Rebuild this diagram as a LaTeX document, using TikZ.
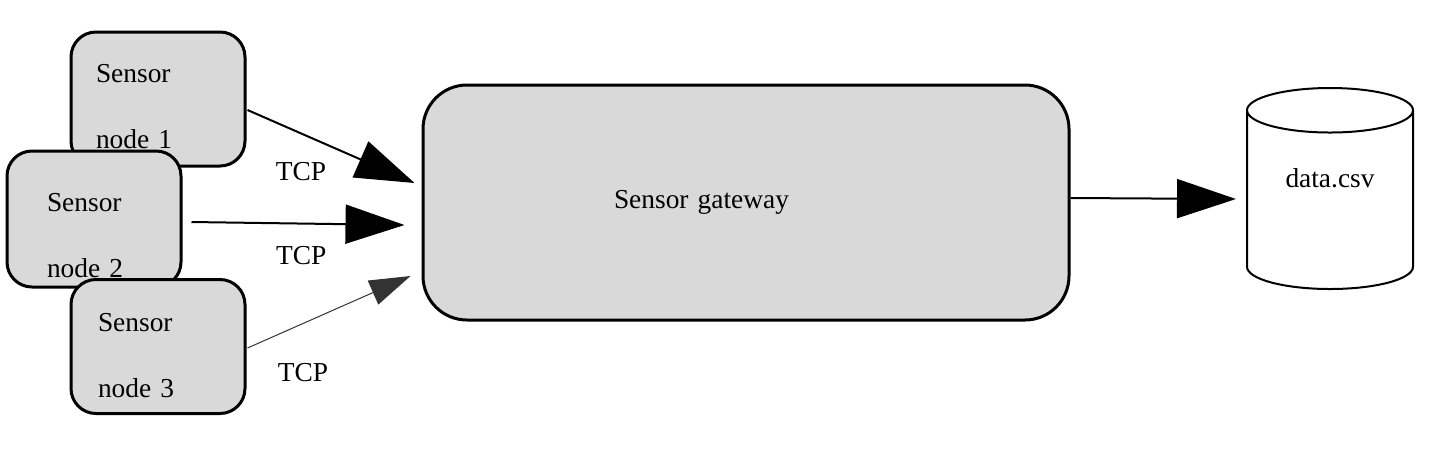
\documentclass[tikz,border=0pt]{standalone}
\usepackage{fontspec}
\setmainfont{Liberation Serif}
\usepackage{xcolor}
\usepackage{tikz}
\usetikzlibrary{arrows.meta, positioning, shapes.geometric, calc}
\definecolor{boxgray}{RGB}{217, 217, 217}
\definecolor{tipgray}{RGB}{51, 51, 51}
\newcommand{\topgap}[1]{\rule{0pt}{#1}}

\begin{document}
\begin{tikzpicture}[
  x=0.5pt, y=-0.5pt,
  every node/.style={font=\fontsize{13.7pt}{16pt}\selectfont},
  sensor/.style={
    draw=black, fill=boxgray, line width=1.5pt, rounded corners=12.5pt,
    minimum width=87pt, minimum height=67pt,
    text width=62pt, align=left, inner sep=0pt
  },
  gateway/.style={
    draw=black, fill=boxgray, line width=1.5pt, rounded corners=22pt,
    minimum width=323pt, minimum height=117.5pt,
    text width=132pt, align=left, inner sep=0pt
  },
  store/.style={
    cylinder, shape border rotate=90, draw=black, fill=white,
    line width=1pt, aspect=0.5, minimum width=83pt, minimum height=100.5pt,
    inner sep=0pt, text depth=22pt
  },
  arrow/.style={-{Triangle[length=29.5pt, width=19.5pt]}, line width=1pt},
  thinarrow/.style={-{Triangle[length=20.5pt, width=13pt]}, line width=0.5pt, color=tipgray},
  tcp/.style={inner sep=0pt}
]
  \useasboundingbox (0,0) rectangle (1450,473);

  % Sensoren (links, ueberlappend)
  \node[sensor] (s1) at (158,99) {\topgap{16.3pt}Sensor\\[17pt]node 1};
  \node[sensor, minimum height=68pt, text width=47pt] (s2) at (94,219) {\topgap{25.3pt}Sensor\\[17pt]node 2};
  \node[sensor, text width=60pt] (s3) at (158,346.5) {\topgap{18.3pt}Sensor\\[17pt]node 3};

  % Gateway und Datei
  \node[gateway] (gw) at (746,202.5) {Sensor gateway};
  \node[store, anchor=north] (csv) at (1330,87) {data.csv};

  % Verbindungen
  \draw[arrow] ($(s1.east)+(1,11)$) -- ($(gw.west)+(-7,-19.5)$)
    node[tcp, pos=0.32, yshift=-19pt] {TCP};
  \draw[arrow] ($(s2.east)+(9,3)$) -- ($(gw.west)+(-17,22.5)$)
    node[tcp, pos=0.515, yshift=-16pt] {TCP};
  \draw[thinarrow] ($(s3.east)+(1,1.5)$) -- ($(gw.west)+(-11,73.5)$)
    node[tcp, pos=0.341, yshift=-24.5pt, text=black] {TCP};
  \draw[arrow] ($(gw.east)+(0,-4.5)$) -- ($(csv.west |- gw.east)+(-10,-3.5)$);
\end{tikzpicture}
\end{document}
